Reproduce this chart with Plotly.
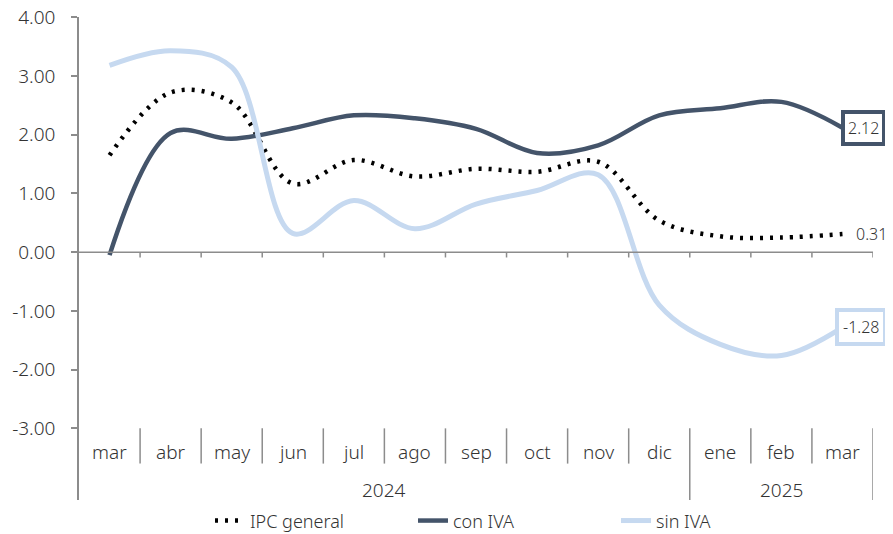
import plotly.graph_objects as go

# data
months = ["mar", "abr", "may", "jun", "jul", "ago", "sep", "oct", "nov", "dic", "ene", "feb", "mar"]
years = ["2024"] * 10 + ["2025"] * 3
ipc_general = [1.65, 2.72, 2.55, 1.17, 1.57, 1.29, 1.42, 1.37, 1.54, 0.54, 0.27, 0.25, 0.31]
con_iva = [-0.05, 2.03, 1.93, 2.11, 2.33, 2.28, 2.10, 1.69, 1.82, 2.33, 2.45, 2.56, 2.12]
sin_iva = [3.18, 3.43, 3.15, 0.32, 0.88, 0.40, 0.82, 1.05, 1.32, -0.90, -1.57, -1.76, -1.28]
y_ticks = [-3, -2, -1, 0, 1, 2, 3, 4]

DARK = "#44546A"
LIGHT = "#C6D9F0"
AXIS = "#8C8C8C"
TEXT = "#333333"
FONT = "Noto Sans"
WEIGHT = 300

x = list(range(len(months)))
y_min, y_max = -4.22, 4.005

fig = go.Figure()

fig.add_trace(
    go.Scatter(
        x=x, y=ipc_general, name="IPC general", mode="lines",
        line=dict(color="black", width=4.5, dash="3px,7px", shape="spline", smoothing=1),
    )
)
fig.add_trace(
    go.Scatter(
        x=x, y=con_iva, name="con IVA", mode="lines",
        line=dict(color=DARK, width=4.5, shape="spline", smoothing=1),
    )
)
fig.add_trace(
    go.Scatter(
        x=x, y=sin_iva, name="sin IVA", mode="lines",
        line=dict(color=LIGHT, width=5, shape="spline", smoothing=1),
    )
)

shapes = []
# horizontal category axis crossing at zero, with boundary ticks
shapes.append(dict(type="line", xref="x", yref="y", x0=-0.5, x1=len(x) - 0.5, y0=0, y1=0,
                   line=dict(color=AXIS, width=1.5)))
for i in range(1, len(x) + 1):
    b = i - 0.5
    shapes.append(dict(type="line", xref="x", yref="y", x0=b, x1=b, y0=0, y1=-0.09,
                       line=dict(color=AXIS, width=1.5)))

# separators between month labels and year groups
for i in range(1, len(x) + 1):
    b = i - 0.5
    group_end = i == len(x) or years[i] != years[i - 1]
    shapes.append(dict(type="line", xref="x", yref="y", x0=b, x1=b,
                       y0=-3.0, y1=y_min if group_end else -3.6,
                       line=dict(color=AXIS, width=1.5)))

label_font = dict(size=19, color=TEXT, family=FONT, weight=WEIGHT)

annotations = []
for i, m in enumerate(months):
    annotations.append(dict(x=i, y=-3.4, xref="x", yref="y", text=m, showarrow=False,
                            font=label_font))

for yr in dict.fromkeys(years):
    idx = [i for i, v in enumerate(years) if v == yr]
    annotations.append(dict(x=(idx[0] + idx[-1]) / 2, y=-4.05, xref="x", yref="y", text=yr,
                            showarrow=False, font=label_font))

# end-of-series value labels
end_font = dict(size=16, color=TEXT, family=FONT, weight=WEIGHT)
last = len(x) - 1
annotations.append(dict(x=last, y=con_iva[-1], xref="x", yref="y", text=f"{con_iva[-1]:.2f}",
                        showarrow=False, xanchor="left", xshift=-1,
                        bgcolor="white", bordercolor=DARK, borderwidth=4, borderpad=3,
                        font=end_font))
annotations.append(dict(x=last, y=sin_iva[-1], xref="x", yref="y", text=f"{sin_iva[-1]:.2f}",
                        showarrow=False, xanchor="left", xshift=-7,
                        bgcolor="white", bordercolor=LIGHT, borderwidth=4, borderpad=4,
                        font=end_font))
annotations.append(dict(x=last, y=ipc_general[-1], xref="x", yref="y", text=f"{ipc_general[-1]:.2f}",
                        showarrow=False, xanchor="left", xshift=12,
                        font=end_font))

# the page body adds an 8px offset, so the figure is 8px smaller on each side
fig.update_layout(
    width=885, height=526,
    margin=dict(l=71, r=20, t=9, b=34, autoexpand=False),
    plot_bgcolor="white", paper_bgcolor="white",
    font=dict(family=FONT, size=19, color=TEXT, weight=WEIGHT),
    showlegend=True,
    legend=dict(orientation="h", x=0.165, xanchor="left", yref="container", y=0.025,
                yanchor="middle", font=dict(size=18, color=TEXT, weight=WEIGHT),
                entrywidth=158, entrywidthmode="pixels", tracegroupgap=0),
    shapes=shapes,
    annotations=annotations,
)

fig.update_xaxes(range=[-0.5, len(x) - 0.5], showticklabels=False, showgrid=False,
                 zeroline=False, showline=False, ticks="", automargin=False)
fig.update_yaxes(range=[y_min, y_max], tickvals=y_ticks,
                 ticktext=[f"{v:.2f}" for v in y_ticks], showgrid=False,
                 zeroline=False, showline=True, linecolor=AXIS, linewidth=1.5,
                 ticks="outside", ticklen=6, tickcolor=AXIS, tickwidth=1.5,
                 ticklabelstandoff=12, ticklabeloverflow="allow", automargin=False)

fig.write_html("out.html")
